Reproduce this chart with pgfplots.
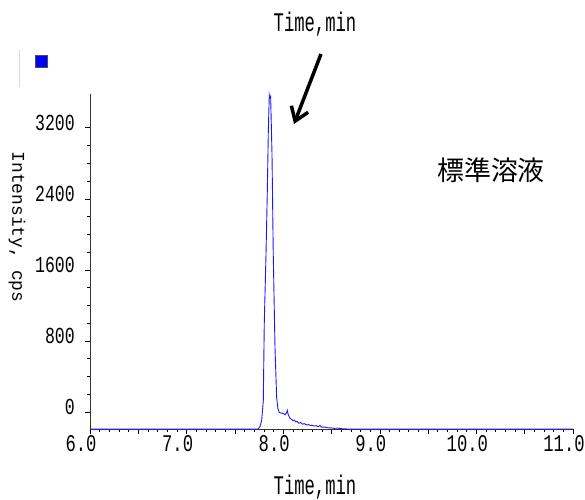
\documentclass[border=0pt]{standalone}
\usepackage{pgfplots}
\pgfplotsset{compat=1.18}
\usepackage{fontspec}
\setmainfont{Liberation Mono}
\newfontfamily\tck{Liberation Mono}[FakeStretch=0.72]
\newfontfamily\lbl{Liberation Mono}[FakeStretch=0.64]
\newfontfamily\cjk{Noto Sans CJK JP}
\usetikzlibrary{arrows.meta}

\pgfplotstableread{
t y
6.000 -192
7.700 -192
7.742 -190
7.760 -160
7.777 -93
7.794 131
7.804 996
7.822 1781
7.835 2455
7.846 3162
7.856 3570
7.862 3540
7.870 3554
7.884 2903
7.897 1781
7.915 726
7.932 165
7.945 40
7.959 -3
7.975 -10
8.000 -15
8.020 -30
8.035 -5
8.042 19
8.050 -20
8.070 -71
8.085 -80
8.100 -95
8.115 -90
8.130 -110
8.145 -105
8.160 -125
8.180 -118
8.200 -135
8.220 -130
8.240 -145
8.260 -140
8.280 -150
8.300 -148
8.320 -158
8.340 -152
8.360 -165
8.380 -150
8.400 -170
8.430 -168
8.460 -176
8.500 -178
8.530 -183
8.560 -180
8.600 -186
8.650 -189
8.700 -192
9.000 -192
11.000 -192
}\trace

\begin{document}
\begin{tikzpicture}[x=1bp,y=1bp]
\useasboundingbox (0,0) rectangle (585,500);
\begin{axis}[
  at={(90bp,71bp)}, anchor=south west,
  scale only axis, width=483bp, height=335bp,
  xmin=6, xmax=11, ymin=-190, ymax=3580,
  axis lines=left,
  axis line style={-, black!80, line width=0.8bp},
  tick style={black, line width=0.6bp},
  tick align=outside,
  major tick length=5bp, minor tick length=3bp,
  xtick={6,6.5,7,7.5,8,8.5,9,9.5,10,10.5,11},
  xticklabels={6.0,,7.0,,8.0,,9.0,,10.0,,11.0},
  minor x tick num=4,
  ytick={0,800,1600,2400,3200},
  yticklabels={0,800,1600,2400,3200},
  minor y tick num=3,
  xticklabel style={font=\tck\fontsize{24}{24}\selectfont, inner sep=1bp, xshift=-9bp},
  yticklabel style={font=\tck\fontsize{23}{23}\selectfont, inner sep=1bp, yshift=5bp, xshift=-9bp},
  clip=false,
]
\addplot[blue!90!white, line width=0.9bp] table[x=t, y=y] {\trace};
\end{axis}
\node[font=\lbl\fontsize{27}{27}\selectfont, anchor=base] at (315,468) {Time,min};
\node[font=\lbl\fontsize{27}{27}\selectfont, anchor=base] at (315,5) {Time,min};
\node[font=\fontsize{18}{18}\selectfont, rotate=-90] at (17,273) {Intensity, cps};
\node[font=\cjk\fontsize{27}{27}\selectfont] at (491,330) {標準溶液};
\draw[black!15, line width=0.8bp] (19,450) -- (19,413);
\draw[fill=blue, draw=black!70, line width=0.6bp] (35,433) rectangle (47,445);
\draw[line width=3.5bp, -{Straight Barb[length=13bp, width=18bp, line width=3.5bp]}] (321,446) -- (294,376);
\end{tikzpicture}
\end{document}
